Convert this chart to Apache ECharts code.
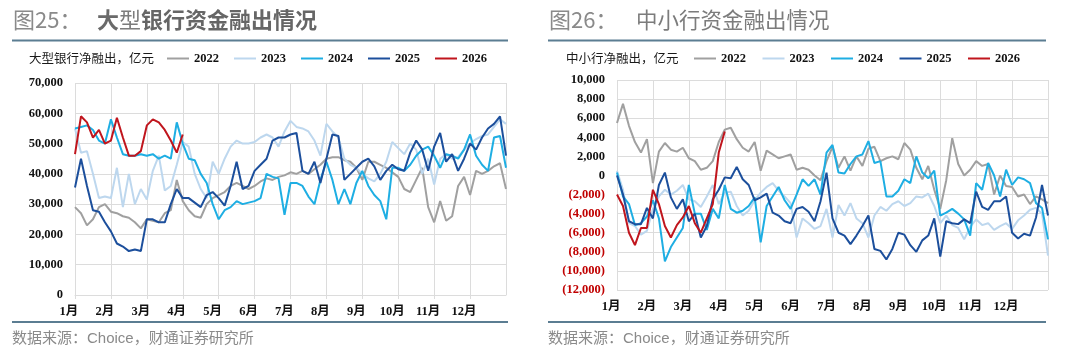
<!DOCTYPE html>
<html>
<head>
<meta charset="utf-8">
<script src="https://cdn.jsdelivr.net/npm/echarts@6/dist/echarts.min.js"></script>
<style>
  html, body { margin: 0; padding: 0; background: #fff; }
  #main { width: 1080px; height: 351px; }
</style>
</head>
<body>
<div id="main"></div>
<script>
// 月份标签
const months = ["1月", "2月", "3月", "4月", "5月", "6月", "7月", "8月", "9月", "10月", "11月", "12月"];
const years = ["2022", "2023", "2024", "2025", "2026"];
const colors = ["#a0a0a0", "#bdd7ee", "#1eaee3", "#1c4f9c", "#c0151d"];

// 大型银行净融出，亿元（每月6个点）
const big2022 = [29000,27000,23000,25000,29000,30000,27500,27000,26000,25500,24000,22000,25000,24500,24000,27000,28000,38000,31000,28000,26000,25500,30000,32000,33000,34000,36000,37000,36000,35000,36000,37500,38500,38000,39000,39500,40500,40000,41000,40000,41500,43000,45000,45500,45500,44500,44000,42000,38000,44000,44000,43000,42000,40500,39000,35000,34000,38000,42000,29000,24000,31000,24500,26000,36000,39000,33000,41000,40000,41000,42500,43500,35000];
const big2023 = [55000,47000,47500,40000,32000,32500,32000,42000,29000,40000,30000,35000,31500,41000,46000,34500,36000,43000,50500,49000,40000,35000,32000,44000,40000,45000,49000,51000,50000,50000,50500,52000,53000,52000,49000,54000,57500,55500,55000,54000,51000,46000,56500,54000,52000,45000,43000,42000,40000,38500,37500,40000,44000,50500,48500,46500,50000,48000,40000,45000,36500,45000,46500,45000,45500,48000,50000,51500,52500,53000,55500,58000,56500];
const big2024 = [55000,55500,56000,54500,51000,50000,58000,52000,46500,46000,46000,46500,46000,46500,45000,46000,45000,57000,50000,45000,44500,40000,37000,30000,25000,28000,29000,31000,30000,30500,31000,32000,40000,39000,38500,26500,37000,37000,36000,32500,30000,38000,44000,38000,30000,35000,30000,37000,41000,36000,33000,31000,25000,42000,42000,41000,43000,46000,48000,49000,46000,42000,46500,46000,45000,48000,53000,46000,43000,41000,52000,52500,42000];
const big2025 = [35500,45000,36000,28000,27500,24000,21000,17000,16000,14500,15000,14500,25000,25000,24000,24000,30000,35000,32000,32000,30500,29000,33000,34000,32000,29500,36000,44000,35000,36000,41000,43000,45000,51000,52000,52000,53000,53500,41000,40000,44000,37000,45000,53000,52500,38000,40000,42000,44000,45000,42500,38000,41000,43000,41500,41000,47000,51000,48000,41000,49000,53500,44000,46500,41000,45000,50000,48000,52000,55000,56500,59000,46000];
const big2026 = [46500,59000,57000,52000,54500,50000,51000,58500,52000,46000,46000,47500,56000,58000,57000,54500,51000,47000,53000];

// 中小行净融出，亿元
const small2022 = [5500,7500,5200,3500,2400,3800,-800,2500,3400,2700,2500,2900,1800,1500,600,800,1500,3500,4800,5000,3800,2900,2500,3500,500,2600,2200,1800,2000,2200,600,800,600,0,-500,1500,3000,800,2000,500,2000,1000,2800,3000,1500,1800,2000,1700,3400,2700,800,-400,1000,-1500,-3500,-500,3900,1200,0,600,1500,1000,1200,-2000,0,-1100,-1200,-2200,-2000,-3000,-2200,-2500,-2900];
const small2023 = [500,-1500,-5000,-5300,-6200,-5800,-3500,-2200,-1500,-2000,-1600,-1000,-2500,-2700,-3300,-2200,-1000,-3000,-1800,-1700,-3200,-4200,-3700,-2600,-1800,-1200,-800,-1600,-2200,-2900,-6500,-4500,-5000,-5600,-5300,-3500,-6500,-3100,-4200,-2900,-4500,-5000,-6500,-4200,-3300,-3700,-3000,-2700,-3200,-2900,-2200,-2300,-1900,-3200,-5000,-4200,-5200,-5500,-6700,-5400,-4600,-5200,-5000,-5700,-5300,-5000,-5600,-4700,-4200,-3600,-3400,-4000,-8400];
const small2024 = [300,-2200,-3000,-5200,-5000,-4300,-2600,-4500,-9000,-7500,-6500,-5500,-1000,-4000,-4000,-5700,-3500,-4500,-1000,-3500,-3900,-3700,-3200,-2300,-7000,-3200,-2200,-1200,-2600,-3500,-2000,-400,-1100,-400,-2000,2400,3200,300,200,1200,2000,2200,3600,1300,1500,-2200,-2200,-1600,-400,-800,2000,300,-300,500,-4200,-3900,-3500,-4000,-4600,-6300,-800,-1500,1300,0,-2200,600,-1000,-200,-400,-800,-2900,-3400,-6700];
const small2025 = [0,-2000,-4800,-5100,-5100,-3400,-4500,-1000,300,-2300,-3500,-2500,-4800,-4000,-6500,-5300,-2500,-1500,-200,-300,900,-400,-1000,-2600,-2300,-1900,-3900,-4200,-4800,-5000,-3500,-3300,-3800,-4800,-2700,300,-4500,-6000,-6300,-7200,-6300,-5300,-4200,-7700,-7900,-8800,-7700,-6000,-6200,-7300,-8000,-6800,-6300,-4500,-8500,-4800,-5000,-5100,-4600,-5000,-1700,-3300,-3600,-2700,-2700,-2200,-6000,-6600,-6100,-6300,-4400,-1000,-4200];
const small2026 = [-2000,-3200,-6000,-7300,-5500,-5500,-1500,-3000,-5300,-6500,-5200,-4400,-3200,-5000,-6000,-4500,-3000,2400,4600];

const bigData = [big2022, big2023, big2024, big2025, big2026];
const smallData = [small2022, small2023, small2024, small2025, small2026];

const serifBold = { fontFamily: "Liberation Serif, Noto Sans CJK SC", fontWeight: "bold", fontSize: 12.5, color: "#111" };
const gridColor = "#dcdcdc";

function fmt(v) {
  return Math.abs(v).toLocaleString("en-US");
}

function xAxisOf(gridIndex) {
  return {
    type: "value", gridIndex: gridIndex, min: 0, max: 12, interval: 1,
    axisLine: { lineStyle: { color: gridColor } },
    axisTick: { show: true, length: 4, lineStyle: { color: gridColor } },
    splitLine: { show: true, lineStyle: { color: gridColor } },
    axisLabel: Object.assign({}, serifBold, {
      margin: 11, showMaxLabel: false, padding: [0, 12, 0, 0],
      formatter: function (v) { return months[v] || ""; }
    })
  };
}

function seriesOf(list, axisIndex) {
  return list.map(function (arr, k) {
    return {
      name: years[k], type: "line", xAxisIndex: axisIndex, yAxisIndex: axisIndex,
      showSymbol: false, symbol: "none", smooth: false,
      lineStyle: { width: 2, color: colors[k] }, itemStyle: { color: colors[k] },
      data: arr.map(function (v, i) { return [i / 6, v]; })
    };
  });
}

function legendOf(left, gap) {
  return {
    left: left, top: 47, icon: "rect", itemWidth: 22, itemHeight: 2, itemGap: gap,
    data: years, selectedMode: false,
    textStyle: { fontFamily: "Liberation Serif", fontWeight: "bold", fontSize: 12.5, color: "#111" }
  };
}

function textEl(x, y, str, size, color, weight, family) {
  return {
    type: "text", left: x, top: y,
    style: {
      text: str, fill: color,
      font: (weight || "normal") + " " + size + "px " + (family || "'Noto Sans CJK SC'")
    }
  };
}

function ruleEl(x1, x2, y) {
  return { type: "line", shape: { x1: x1, y1: y, x2: x2, y2: y }, style: { stroke: "#5b7d92", lineWidth: 2 } };
}

const srcFont = "'Liberation Sans', 'Noto Sans CJK SC'";

let chart = echarts.init(document.getElementById("main"));
let option = {
  animation: false,
  backgroundColor: "#fff",
  grid: [
    { left: 75, top: 83, width: 431, height: 212 },
    { left: 617, top: 80, width: 431, height: 210 }
  ],
  legend: [legendOf(162, 15), legendOf(689, 16.5)],
  xAxis: [xAxisOf(0), xAxisOf(1)],
  yAxis: [
    {
      type: "value", gridIndex: 0, min: 0, max: 70000, interval: 10000,
      axisLine: { show: false }, axisTick: { show: false },
      splitLine: { lineStyle: { color: gridColor } },
      axisLabel: Object.assign({}, serifBold, { margin: 12, formatter: fmt })
    },
    {
      type: "value", gridIndex: 1, min: -12000, max: 10000, interval: 2000,
      axisLine: { show: false }, axisTick: { show: false },
      splitLine: { lineStyle: { color: gridColor } },
      axisLabel: Object.assign({}, serifBold, {
        margin: 12,
        formatter: function (v) { return v < 0 ? "(" + fmt(v) + ")" : fmt(v); },
        color: function (v) { return v < 0 ? "#c00000" : "#111"; }
      })
    }
  ],
  series: seriesOf(bigData, 0).concat(seriesOf(smallData, 1)),
  graphic: [
    textEl(13, 9, "图25：", 22, "#8a8a8a"),
    textEl(97, 9, "大", 22, "#6a6a6a", "bold"),
    textEl(119, 9, "型", 22, "#7c7c7c"),
    textEl(141, 9, "银行资金融出情况", 22, "#666666", "bold"),
    textEl(549, 9, "图26：", 22, "#8a8a8a"),
    textEl(636, 9, "中小行资金融出情况", 21.5, "#7c7c7c"),
    ruleEl(12, 508, 40.5),
    ruleEl(548, 1046, 40.5),
    textEl(29, 52, "大型银行净融出，亿元", 12.5, "#1a1a1a"),
    textEl(566, 52, "中小行净融出，亿元", 12.5, "#1a1a1a"),
    ruleEl(12, 508, 322),
    ruleEl(548, 1046, 322),
    textEl(12, 331, "数据来源：Choice，财通证券研究所", 15, "#8a8a8a", "normal", srcFont),
    textEl(548, 331, "数据来源：Choice，财通证券研究所", 15, "#8a8a8a", "normal", srcFont)
  ]
};
option && chart.setOption(option);
</script>
</body>
</html>
